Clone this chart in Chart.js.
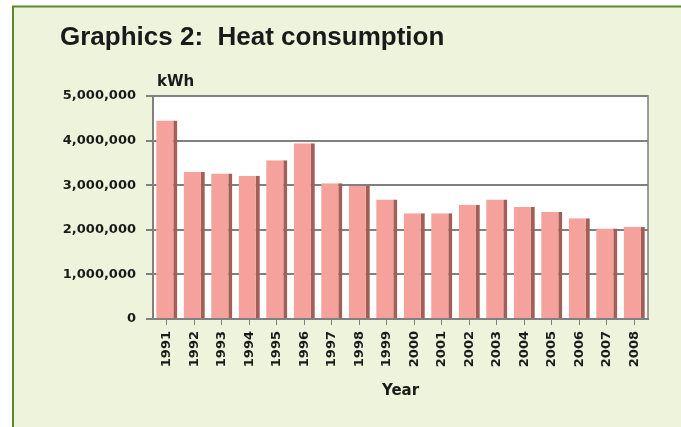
<!DOCTYPE html>
<html>
<head>
<meta charset="utf-8">
<script src="https://cdn.jsdelivr.net/npm/chart.js@4.4.1/dist/chart.umd.min.js"></script>
<style>
    html, body { margin: 0; padding: 0; background: #ffffff; }
    #wrap { width: 681px; height: 427px; position: relative; }
</style>
</head>
<body>
<div id="wrap"><canvas id="heatChart" width="681" height="427"></canvas></div>
<script>
const years = ['1991', '1992', '1993', '1994', '1995', '1996', '1997', '1998', '1999',
    '2000', '2001', '2002', '2003', '2004', '2005', '2006', '2007', '2008'];
const heatKwh = [4450000, 3300000, 3260000, 3210000, 3560000, 3940000, 3040000, 2980000, 2680000,
    2370000, 2370000, 2560000, 2680000, 2510000, 2400000, 2260000, 2030000, 2070000];
const yTicks = [0, 1000000, 2000000, 3000000, 4000000, 5000000];

const gridGray = '#808080';
const tickFont = { family: 'DejaVu Sans', size: 13, weight: 'bold' };

// green panel, white plot wall, frame and the "kWh" unit label
const panelPlugin = {
    id: 'panel',
    beforeDraw(chart) {
        const ctx = chart.ctx;
        const a = chart.chartArea;
        ctx.save();
        ctx.fillStyle = '#ffffff';
        ctx.fillRect(0, 0, chart.width, chart.height);
        ctx.fillStyle = '#eef3dc';
        ctx.fillRect(12, 6, chart.width - 12, chart.height - 6);
        ctx.strokeStyle = '#5b8a2c';
        ctx.lineWidth = 2;
        ctx.beginPath();
        ctx.moveTo(12, 6.5);
        ctx.lineTo(chart.width, 6.5);
        ctx.moveTo(13, 6);
        ctx.lineTo(13, chart.height);
        ctx.stroke();
        ctx.fillStyle = '#ffffff';
        ctx.fillRect(a.left, a.top, a.right - a.left, a.bottom - a.top);
        ctx.restore();
    },
    afterDraw(chart) {
        const ctx = chart.ctx;
        const a = chart.chartArea;
        ctx.save();
        ctx.strokeStyle = gridGray;
        ctx.lineWidth = 1.5;
        ctx.strokeRect(a.left, a.top, a.right - a.left, a.bottom - a.top);
        ctx.fillStyle = '#1a1a1a';
        ctx.font = 'bold 15px "DejaVu Sans"';
        ctx.textBaseline = 'middle';
        ctx.fillText('kWh', a.left + 4, a.top - 14);
        ctx.restore();
    }
};

new Chart(document.getElementById('heatChart'), {
    type: 'bar',
    data: {
        labels: years,
        datasets: [{
            label: 'Heat consumption',
            data: heatKwh,
            backgroundColor: '#f4a29b',
            borderColor: '#a35e58',
            borderWidth: { top: 0, right: 4, bottom: 0, left: 0 },
            borderSkipped: false,
            barPercentage: 0.77,
            categoryPercentage: 1
        }]
    },
    options: {
        responsive: false,
        animation: false,
        layout: {
            padding: { left: 60, right: 33, top: 0, bottom: 0 }
        },
        plugins: {
            legend: { display: false },
            tooltip: { enabled: false },
            title: {
                display: true,
                text: 'Graphics 2:  Heat consumption',
                align: 'start',
                color: '#1a1a1a',
                font: { family: 'Liberation Sans', size: 26, weight: 'bold', lineHeight: 1.15 },
                padding: { top: 23, bottom: 43 }
            }
        },
        scales: {
            x: {
                afterFit(scale) { scale.height = 108; },
                grid: {
                    offset: false,
                    drawOnChartArea: false,
                    drawTicks: true,
                    tickLength: 6,
                    color: gridGray
                },
                border: { color: gridGray, width: 2 },
                ticks: {
                    minRotation: 90,
                    maxRotation: 90,
                    autoSkip: false,
                    padding: 6,
                    color: '#1a1a1a',
                    font: tickFont
                },
                title: {
                    display: true,
                    text: 'Year',
                    color: '#1a1a1a',
                    font: { family: 'DejaVu Sans', size: 15, weight: 'bold' },
                    padding: { top: 0, bottom: 27 }
                }
            },
            y: {
                min: 0,
                max: 5000000,
                afterFit(scale) { scale.width = 93; },
                afterBuildTicks(scale) {
                    scale.ticks = yTicks.map(v => ({ value: v }));
                },
                grid: {
                    color: gridGray,
                    lineWidth: 2,
                    tickLength: 7
                },
                border: { color: gridGray, width: 2 },
                ticks: {
                    padding: 10,
                    color: '#1a1a1a',
                    font: tickFont,
                    callback: (value) => value.toLocaleString('en-US')
                }
            }
        }
    },
    plugins: [panelPlugin]
});
</script>
</body>
</html>
